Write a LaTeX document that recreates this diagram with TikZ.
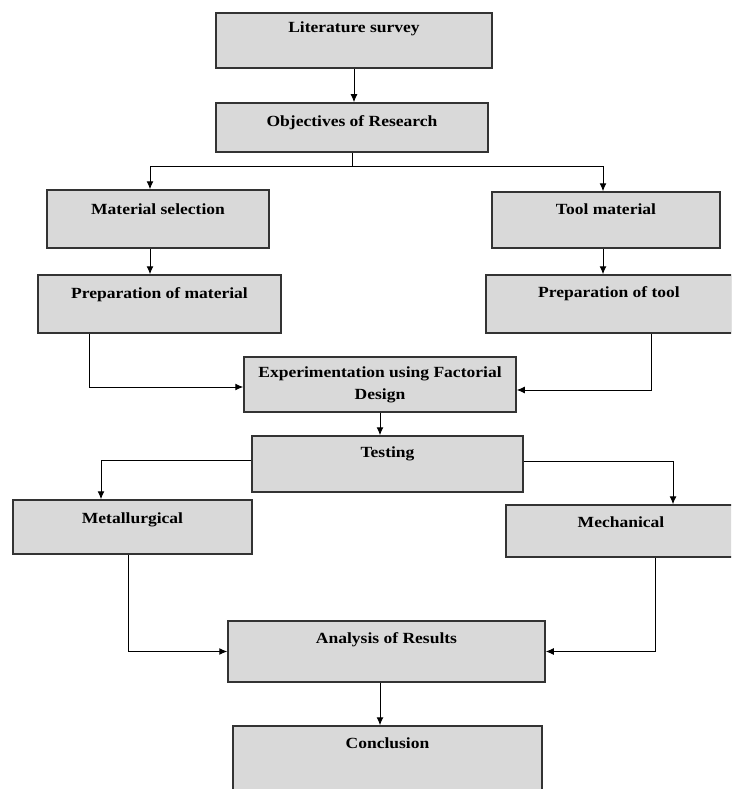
\documentclass[tikz,border=0pt]{standalone}
\usepackage{fontspec}
\setmainfont{Liberation Serif}[FakeStretch=1.13]
\usetikzlibrary{arrows.meta}
\definecolor{boxgray}{HTML}{D9D9D9}
\definecolor{edgegray}{HTML}{333333}
\tikzset{
  box/.style={draw=edgegray, fill=boxgray, line width=1.5pt, inner sep=0pt,
    anchor=base, font=\fontsize{15.5}{22}\selectfont\bfseries},
  arr/.style={draw=black, line width=1pt, -{Latex[length=8pt,width=7pt]}},
  ln/.style={draw=black, line width=1pt}
}
\begin{document}
\begin{tikzpicture}[x=1pt,y=-1pt]
\useasboundingbox (0,0) rectangle (731,789);
\clip (0,0) rectangle (731,789);
\fill[white] (0,0) rectangle (731,789);

\node[box, minimum width=276pt, text height=20pt, text depth=35pt] (lit) at (354,33) {Literature survey};
\node[box, minimum width=272pt, text height=23pt, text depth=26pt] (obj) at (352,126) {Objectives of Research};
\node[box, minimum width=222pt, text height=24pt, text depth=34pt] (mat) at (158,214) {Material selection};
\node[box, minimum width=228pt, text height=22pt, text depth=34pt] (tool) at (606,214) {Tool material};
\node[box, minimum width=243pt, text height=23pt, text depth=35pt] (prepm) at (159.5,298) {Preparation of material};
\node[box, minimum width=246pt, text height=22pt, text depth=36pt] (prept) at (609,297) {Preparation of tool};
\node[box, anchor=center, align=center, minimum width=272pt, minimum height=55pt] (exp) at (380,384.5) {Experimentation using Factorial\\Design};
\node[box, minimum width=271pt, text height=21pt, text depth=35pt] (test) at (387.5,457) {Testing};
\node[box, minimum width=239pt, text height=23pt, text depth=31pt] (met) at (132.5,523) {Metallurgical};
\node[box, minimum width=230pt, text height=22pt, text depth=30pt] (mech) at (621,527) {Mechanical};
\node[box, minimum width=317pt, text height=22pt, text depth=39pt] (ana) at (386.5,643) {Analysis of Results};
\node[box, minimum width=309pt, text height=22pt, text depth=52pt] (conc) at (387.5,748) {Conclusion};

\coordinate (j) at (0,166);

\draw[arr] (lit.south) -- (lit.south |- obj.north);
\draw[ln] (obj.south) -- (obj.south |- j);
\draw[arr] (obj.south |- j) -| ([xshift=-8pt]mat.north);
\draw[arr] (obj.south |- j) -| ([xshift=-3pt]tool.north);
\draw[arr] ([xshift=-8pt]mat.south) -- ([xshift=-8pt]mat.south |- prepm.north);
\draw[arr] ([xshift=-3pt]tool.south) -- ([xshift=-3pt]tool.south |- prept.north);
\draw[arr] ([xshift=52pt]prepm.south west) |- ([yshift=-2.5pt]exp.west);
\draw[arr] ([xshift=166pt]prept.south west) |- ([yshift=-5.5pt]exp.east);
\draw[arr] (exp.south) -- (exp.south |- test.north);
\draw[arr] ([yshift=4pt]test.west) -| ([xshift=-31.5pt]met.north);
\draw[arr] ([yshift=3pt]test.east) -| ([xshift=52pt]mech.north);
\draw[arr] ([xshift=-4.5pt]met.south) |- (ana.west);
\draw[arr] ([xshift=34pt]mech.south) |- (ana.east);
\draw[arr] ([xshift=-6.5pt]ana.south) -- ([xshift=-6.5pt]ana.south |- conc.north);
\end{tikzpicture}
\end{document}
